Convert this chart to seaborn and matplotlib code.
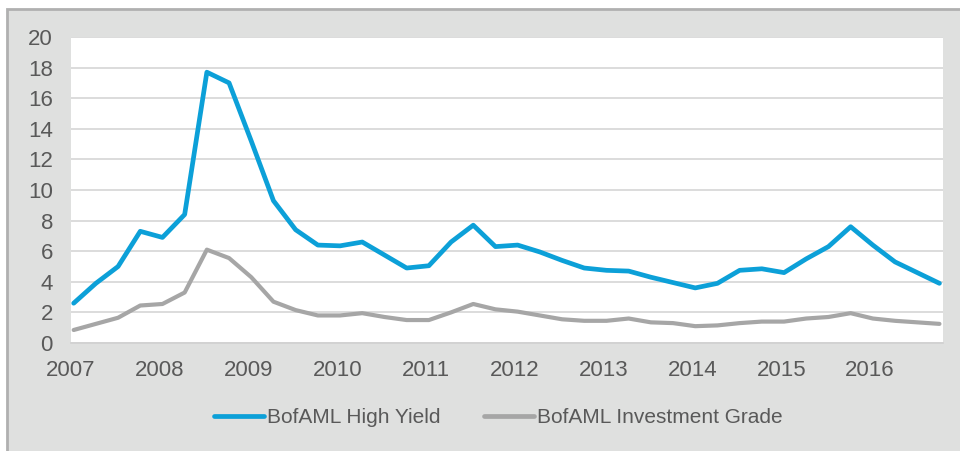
import numpy as np
import pandas as pd
import matplotlib.pyplot as plt
import seaborn as sns
from matplotlib.patches import Rectangle

# Quarterly option-adjusted spreads (%), 2007Q1 - 2016Q4
quarters = pd.period_range("2007Q1", "2016Q4", freq="Q")
high_yield = [2.6, 3.9, 5.0, 7.3, 6.9, 8.4, 17.7, 17.0, 13.2, 9.3,
              7.4, 6.4, 6.35, 6.6, 5.75, 4.9, 5.05, 6.6, 7.7, 6.3,
              6.4, 5.95, 5.4, 4.9, 4.75, 4.7, 4.3, 3.95, 3.6, 3.9,
              4.75, 4.85, 4.6, 5.5, 6.3, 7.6, 6.4, 5.3, 4.6, 3.9]
inv_grade = [0.85, 1.25, 1.65, 2.45, 2.55, 3.3, 6.1, 5.55, 4.3, 2.7,
             2.15, 1.8, 1.8, 1.95, 1.7, 1.5, 1.5, 2.0, 2.55, 2.2,
             2.05, 1.8, 1.55, 1.45, 1.45, 1.6, 1.35, 1.3, 1.1, 1.15,
             1.3, 1.4, 1.4, 1.6, 1.7, 1.95, 1.6, 1.45, 1.35, 1.25]
series_names = ["BofAML High Yield", "BofAML Investment Grade"]
year_ticks = list(range(2007, 2017))

year_frac = quarters.year + (quarters.quarter - 1) / 4 + 0.03
df = pd.DataFrame({
    "Year": np.concatenate([year_frac, year_frac]),
    "Spread": high_yield + inv_grade,
    "Series": [series_names[0]] * len(high_yield) + [series_names[1]] * len(inv_grade),
})

sns.set_style("white")
plt.rcParams["font.family"] = ["Liberation Sans", "DejaVu Sans"]

fig = plt.figure(figsize=(9.6, 4.51), dpi=100)
fig.patch.set_facecolor("white")
fig.patches.append(Rectangle((7 / 960, -0.01), 1.0, 1 - 9 / 451 + 0.01, transform=fig.transFigure,
                             facecolor="#dfe0df", edgecolor="#b0b0b0", linewidth=2, zorder=-1))

ax = fig.add_axes([71 / 960, 108 / 451, 872 / 960, 306 / 451])
ax.set_facecolor("white")

sns.lineplot(data=df, x="Year", y="Spread", hue="Series",
             palette={series_names[0]: "#0ca0d8", series_names[1]: "#a6a6a6"},
             linewidth=3.4, ax=ax)
ax.lines[1].set_linewidth(3.0)

ax.set_xlim(2007, 2016.82)
ax.set_ylim(0, 20)
ax.set_yticks(range(0, 21, 2))
ax.set_xticks(year_ticks)
ax.set_xlabel("")
ax.set_ylabel("")
ax.grid(axis="y", color="#d9d9d9", linewidth=1.3)
ax.set_axisbelow(True)
for side in ["top", "right", "left"]:
    ax.spines[side].set_visible(False)
ax.spines["bottom"].set_color("#d0d0d0")
ax.spines["bottom"].set_linewidth(1.2)
ax.tick_params(axis="y", length=0, pad=13, labelsize=16, labelcolor="#595959")
ax.tick_params(axis="x", length=6, width=1, color="#d0d0d0", pad=6,
               labelsize=16, labelcolor="#595959")

ax.legend(loc="center", bbox_to_anchor=(0.49, -0.245), ncol=2, frameon=False,
          fontsize=15, handlelength=2.4, columnspacing=2.1, handletextpad=0.15,
          labelcolor="#595959")

fig.savefig("out.png", dpi=100)
